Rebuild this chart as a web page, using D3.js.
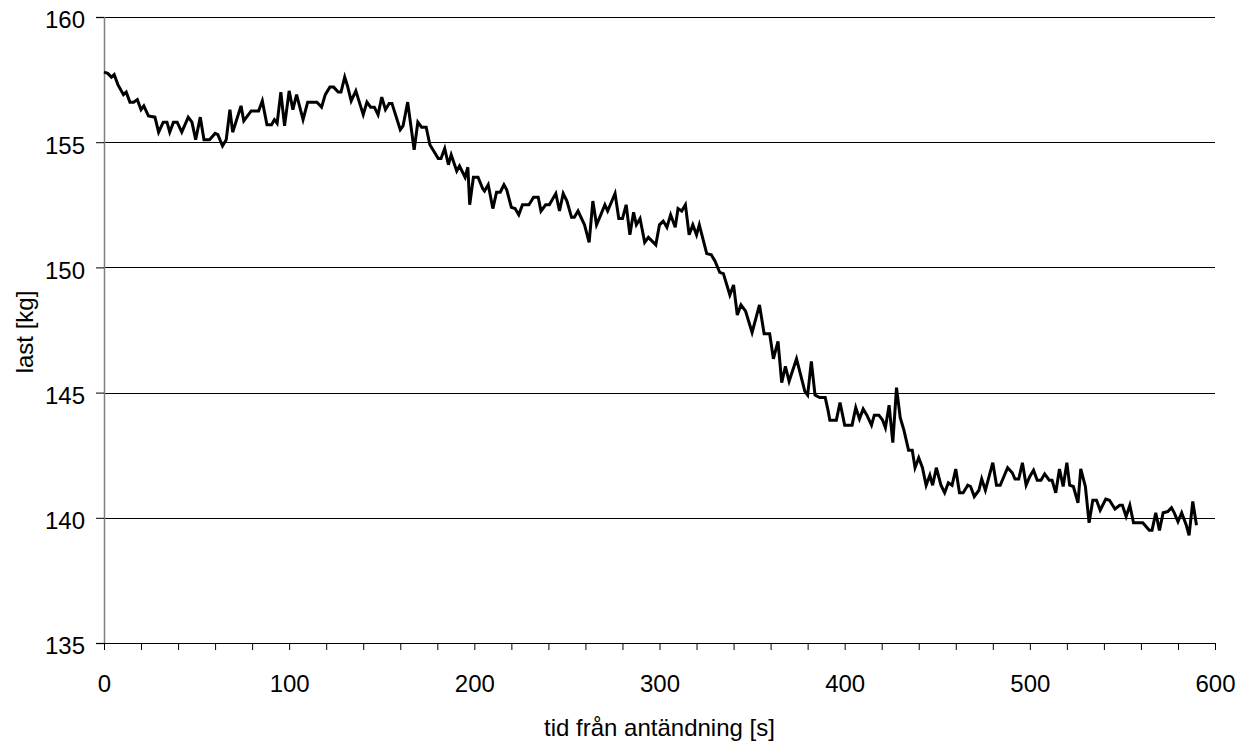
<!DOCTYPE html>
<html>
<head>
<meta charset="utf-8">
<script src="https://cdn.jsdelivr.net/npm/d3@7"></script>
<style>
  body { margin: 0; background: #fff; }
  text { font-family: "Liberation Sans", Arial, Helvetica, sans-serif; }
</style>
</head>
<body>
<div id="chart"></div>
<script>
// time [s]
const times = [
  0, 2, 4, 5.5, 7.5, 10.5, 12, 14, 16, 18, 20, 21.5, 24, 27.5, 29.5, 32, 34, 35.5, 37.5, 39.5,
  42, 45.5, 47.5, 49.5, 52, 54, 57, 60, 61.5, 64, 66, 68, 69.5, 74, 75.5, 79.5, 83.5, 85.5, 88, 90.5,
  92, 93.5, 95.5, 97.5, 100, 102, 104, 107.5, 110, 115, 117.5, 119.5, 122, 124, 126.5, 128, 130, 131.5, 133.5, 136,
  140, 142, 144, 146, 148, 150, 152, 154, 155.5, 160, 161.5, 164, 167.5, 169.5, 171.5, 174, 176, 180.5, 182, 184,
  186, 187.5, 190.5, 192, 195, 196.5, 197.5, 199.5, 202, 204.5, 205.5, 207.5, 210, 212, 214, 216, 217.5, 220, 222, 224,
  226, 229.5, 232, 234.5, 236, 238.5, 240.5, 244, 246, 248, 250, 252.5, 254, 256, 259.5, 262, 264, 266, 268, 270.5,
  272, 276, 278, 280, 282, 284, 286, 287.5, 289.5, 292, 294, 298, 300, 302, 304, 306, 308.5, 310, 312, 314,
  316, 318, 320, 321.5, 325.5, 328, 330, 332.5, 334.5, 338, 340, 342, 344, 346.5, 350, 354, 356.5, 359.5, 361.5, 364,
  366, 368, 370, 374, 378.5, 380, 382, 384, 386.5, 389.5, 391, 392, 395.5, 397.5, 400, 404, 406, 408, 410, 412,
  414.5, 416, 418.5, 420.5, 422, 424, 426, 428, 430, 432, 434.5, 436.5, 438, 440, 442, 444, 446, 447.5, 449.5, 452,
  454, 456, 458, 460, 462, 464, 466.5, 468, 470, 472.5, 474, 476, 478, 480, 482, 484, 488, 490.5, 492, 494,
  496, 498, 500, 502, 504, 506, 508, 510.5, 512, 514, 516, 518, 520, 521.5, 523.5, 526, 527.5, 530, 532, 534,
  536, 538, 541, 543, 546, 548.5, 550, 552, 554, 556, 561, 564.5, 566, 568, 570, 572, 574.5, 576.5, 578, 580,
  582, 584.5, 586, 588, 590
];

// load [kg]
const loads = [
  157.8, 157.75, 157.6, 157.7, 157.3, 156.9, 157.0, 156.6, 156.6, 156.7, 156.3, 156.45, 156.05, 156.0, 155.4, 155.8, 155.8, 155.4, 155.8, 155.8,
  155.4, 156.0, 155.8, 155.1, 156.0, 155.1, 155.1, 155.35, 155.3, 154.85, 155.1, 156.3, 155.4, 156.45, 155.85, 156.25, 156.25, 156.65, 155.7, 155.7,
  155.9, 155.75, 157.0, 155.65, 157.05, 156.3, 156.9, 155.9, 156.6, 156.6, 156.4, 156.9, 157.2, 157.2, 157.0, 157.0, 157.6, 157.25, 156.65, 157.05,
  156.1, 156.6, 156.4, 156.4, 156.1, 156.8, 156.3, 156.55, 156.55, 155.5, 155.65, 156.6, 154.7, 155.8, 155.6, 155.6, 154.9, 154.35, 154.35, 154.75,
  154.1, 154.5, 153.85, 154.05, 153.6, 154.0, 152.5, 153.6, 153.6, 153.15, 153.05, 153.3, 152.35, 153.0, 153.0, 153.3, 153.1, 152.4, 152.35, 152.1,
  152.5, 152.5, 152.8, 152.8, 152.25, 152.5, 152.5, 152.95, 152.25, 152.95, 152.65, 152.0, 152.0, 152.25, 151.7, 151.0, 152.65, 151.7, 152.05, 152.5,
  152.25, 152.95, 151.95, 151.95, 152.5, 151.3, 152.2, 151.7, 151.95, 151.0, 151.2, 150.9, 151.7, 151.85, 151.6, 152.1, 151.6, 152.35, 152.25, 152.5,
  151.3, 151.7, 151.3, 151.7, 150.55, 150.5, 150.25, 149.8, 149.75, 148.9, 149.3, 148.1, 148.5, 148.25, 147.4, 148.5, 147.35, 147.35, 146.35, 147.05,
  145.4, 146.05, 145.45, 146.35, 145.05, 144.9, 146.25, 144.9, 144.8, 144.8, 144.3, 143.9, 143.9, 144.6, 143.7, 143.7, 144.4, 143.95, 144.35, 144.1,
  143.7, 144.1, 144.1, 143.9, 143.6, 144.5, 143.0, 145.2, 144.0, 143.5, 142.7, 142.7, 142.0, 142.4, 142.0, 141.3, 141.7, 141.3, 142.0, 141.3,
  141.0, 141.4, 141.3, 141.95, 141.0, 141.0, 141.3, 141.25, 140.85, 141.1, 141.55, 141.1, 141.65, 142.2, 141.3, 141.3, 142.0, 141.8, 141.55, 141.55,
  142.2, 141.3, 141.65, 141.9, 141.5, 141.5, 141.75, 141.5, 141.5, 141.0, 141.95, 141.25, 142.2, 141.3, 141.25, 140.6, 141.95, 141.25, 139.8, 140.7,
  140.7, 140.3, 140.75, 140.7, 140.35, 140.5, 140.5, 140.05, 140.5, 139.8, 139.8, 139.5, 139.5, 140.2, 139.5, 140.2, 140.25, 140.4, 140.2, 139.85,
  140.2, 139.7, 139.3, 140.65, 139.7
];

const xTicks = d3.range(0, 601, 20);
const xLabels = [0, 100, 200, 300, 400, 500, 600];
const yTicks = [135, 140, 145, 150, 155, 160];
const xTitle = "tid från antändning [s]";
const yTitle = "last [kg]";

const W = 1247, H = 744;
const margin = { top: 17, right: 32, bottom: 101, left: 104 };
const width = W - margin.left - margin.right,
      height = H - margin.top - margin.bottom;

const svg = d3.select("#chart").append("svg")
    .attr("width", W)
    .attr("height", H);

const g = svg.append("g")
    .attr("transform", `translate(${margin.left},${margin.top})`);

const x = d3.scaleLinear().domain([0, 600]).range([0, width]);
const y = d3.scaleLinear().domain([135, 160]).range([height, 0]);

// horizontal grid lines
g.append("g")
    .selectAll("line")
    .data(yTicks.filter(d => d > 135))
    .enter().append("line")
    .attr("x1", 0)
    .attr("x2", width)
    .attr("y1", d => Math.round(y(d)) + 0.5)
    .attr("y2", d => Math.round(y(d)) + 0.5)
    .attr("stroke", "#000")
    .attr("stroke-width", 1);

// y axis
const yAxis = g.append("g")
    .call(d3.axisLeft(y).tickValues(yTicks).tickSize(8).tickPadding(11));
yAxis.select(".domain").attr("stroke", "#808080").attr("stroke-width", 1.5);
yAxis.selectAll(".tick line").attr("stroke", "#000");
yAxis.selectAll(".tick text")
    .attr("font-size", "24px")
    .attr("font-family", "Liberation Sans, Arial, sans-serif")
    .attr("fill", "#000")
    .attr("dy", "0.45em");

// x axis
const xAxis = g.append("g")
    .attr("transform", `translate(0,${height})`)
    .call(d3.axisBottom(x)
        .tickValues(xTicks)
        .tickSize(7)
        .tickPadding(25)
        .tickSizeOuter(0)
        .tickFormat(d => xLabels.includes(d) ? d : ""));
xAxis.select(".domain").attr("stroke", "#000");
xAxis.selectAll(".tick line").attr("stroke", "#000");
xAxis.selectAll(".tick text")
    .attr("font-size", "24px")
    .attr("font-family", "Liberation Sans, Arial, sans-serif")
    .attr("fill", "#000");

// data line
const data = times.map((t, i) => ({ t: t, v: loads[i] }));
const line = d3.line()
    .x(d => x(d.t))
    .y(d => y(d.v));

g.append("path")
    .datum(data)
    .attr("fill", "none")
    .attr("stroke", "#000")
    .attr("stroke-width", 3)
    .attr("stroke-linejoin", "miter")
    .attr("d", line);

// axis titles
svg.append("text")
    .attr("x", margin.left + width / 2)
    .attr("y", 736)
    .attr("text-anchor", "middle")
    .attr("font-size", "24px")
    .text(xTitle);

svg.append("text")
    .attr("transform", `translate(33,${margin.top + height / 2 + 2}) rotate(-90)`)
    .attr("text-anchor", "middle")
    .attr("font-size", "24px")
    .text(yTitle);
</script>
</body>
</html>
